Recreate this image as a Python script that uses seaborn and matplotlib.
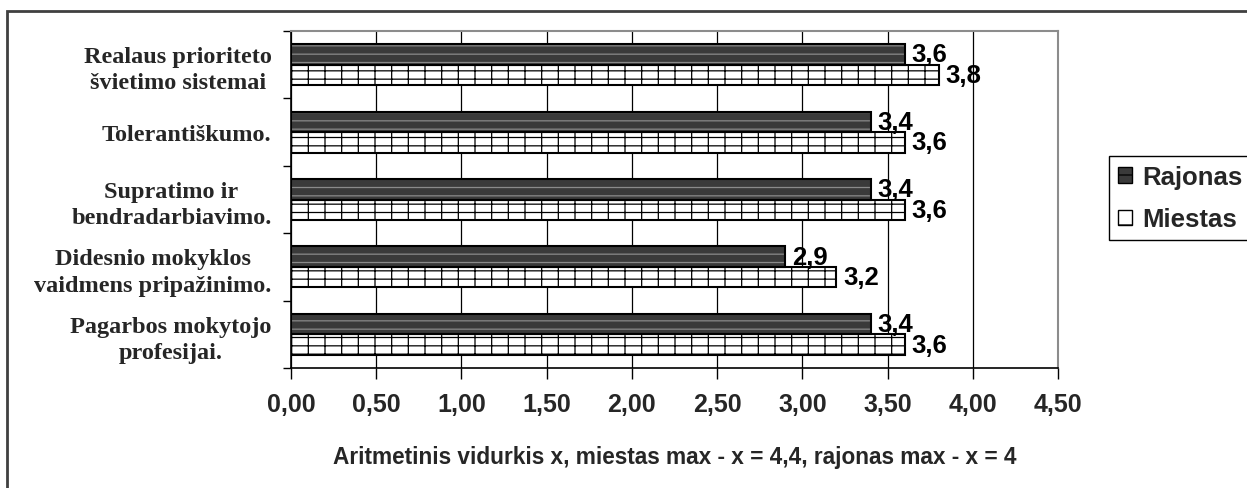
import numpy as np
import pandas as pd
import matplotlib.pyplot as plt
import matplotlib.patches as mpatches
from matplotlib.ticker import FuncFormatter, MultipleLocator, FixedLocator
import seaborn as sns


CATEGORIES = [
    "Realaus prioriteto\nšvietimo sistemai",
    "Tolerantiškumo.",
    "Supratimo ir\nbendradarbiavimo.",
    "Didesnio mokyklos\nvaidmens pripažinimo.",
    "Pagarbos mokytojo\nprofesijai.",
]
GROUPS = ["Rajonas", "Miestas"]
RAJONAS = [3.6, 3.4, 3.4, 2.9, 3.4]
MIESTAS = [3.8, 3.6, 3.6, 3.2, 3.6]
XLABEL = "Aritmetinis vidurkis x, miestas max - x = 4,4, rajonas max - x = 4"

W, H = 1247, 489


def comma(v, decimals):
    return f"{v:.{decimals}f}".replace(".", ",")


df = pd.DataFrame({
    "category": CATEGORIES * 2,
    "group": [GROUPS[0]] * len(CATEGORIES) + [GROUPS[1]] * len(CATEGORIES),
    "value": RAJONAS + MIESTAS,
})

sns.set_theme(style="white")
plt.rcParams["font.family"] = ["Liberation Sans", "DejaVu Sans"]
plt.rcParams["hatch.linewidth"] = 0.9

fig = plt.figure(figsize=(W / 100, H / 100), dpi=100)
ax = fig.add_axes([291 / W, 1 - 369 / H, (1058 - 291) / W, (369 - 32) / H])

sns.barplot(
    data=df, y="category", x="value", hue="group", order=CATEGORIES,
    hue_order=GROUPS, orient="h", width=0.61, gap=0,
    palette=["#3c3c3c", "white"], edgecolor="black", linewidth=1.5,
    legend=False, ax=ax,
)

styles = {
    "Rajonas": dict(face="#3a3a3a", hatch="--", hatch_ec="#8a8a8a"),
    "Miestas": dict(face="white", hatch="--|", hatch_ec="black"),
}

for group, cont in zip(GROUPS, ax.containers):
    st = styles[group]
    for p in cont:
        p.set_facecolor(st["face"])
        p.set_hatch(st["hatch"])
        p.set_edgecolor(st["hatch_ec"])
        p.set_linewidth(0)
        # crisp black outline over the hatched bar
        ax.add_patch(mpatches.Rectangle(p.get_xy(), p.get_width(), p.get_height(),
                                        fill=False, ec="black", lw=1.5, zorder=3))
    vals = RAJONAS if group == "Rajonas" else MIESTAS
    ax.bar_label(cont, labels=[comma(v, 1) for v in vals], padding=5,
                 fontsize=18.5, fontweight="bold", color="black")

ax.set_xlim(0, 4.5)
ax.set_ylim(len(CATEGORIES) - 0.5, -0.5)
ax.xaxis.set_major_locator(MultipleLocator(0.5))
ax.xaxis.set_major_formatter(FuncFormatter(lambda v, _: comma(v, 2)))
ax.grid(axis="x", color="black", linewidth=0.9)
ax.set_axisbelow(True)

ax.yaxis.set_minor_locator(FixedLocator(np.arange(len(CATEGORIES) + 1) - 0.5))
ax.tick_params(axis="y", which="major", length=0, pad=14)
ax.tick_params(axis="y", which="minor", left=True, length=6, width=1, color="black")
ax.tick_params(axis="x", bottom=True, length=8, width=1, color="black", pad=9)

for lab in ax.get_yticklabels():
    lab.set_fontfamily(["Liberation Serif", "DejaVu Serif"])
    lab.set_fontweight("bold")
    lab.set_fontsize(17.5)
    lab.set_multialignment("center")
    lab.set_linespacing(1.33)
for lab in ax.get_xticklabels():
    lab.set_fontsize(18)
    lab.set_fontweight("bold")

ax.set_ylabel("")
ax.set_xlabel(XLABEL, fontsize=16.3, fontweight="bold")
ax.xaxis.set_label_coords(0.5, -0.228)

for side in ["left", "bottom"]:
    ax.spines[side].set_color("black")
    ax.spines[side].set_linewidth(1.2)
for side in ["top", "right"]:
    ax.spines[side].set_color("#8c8c8c")
    ax.spines[side].set_linewidth(1.5)

handles = [
    mpatches.Patch(facecolor=styles[g]["face"], hatch=styles[g]["hatch"][:1],
                   edgecolor="black", linewidth=1.0, label=g)
    for g in GROUPS
]
leg = fig.legend(
    handles=handles, loc="upper left", bbox_to_anchor=(1109 / W, 1 - 157 / H),
    frameon=True, fancybox=False, edgecolor="black", framealpha=1,
    prop={"size": 18.5, "weight": "bold"}, handlelength=0.55, handleheight=0.55,
    handletextpad=0.4, borderpad=0.35, labelspacing=0.72, borderaxespad=0,
)
leg.get_frame().set_linewidth(1.0)

# outer chart border, running off the right and bottom edges
fig.patches.append(mpatches.Rectangle((7 / W, -0.2), 1.2, 1 - 12 / H + 0.2,
                                      transform=fig.transFigure, fill=False,
                                      ec="#404040", lw=2))

fig.savefig("out.png", dpi=100)
